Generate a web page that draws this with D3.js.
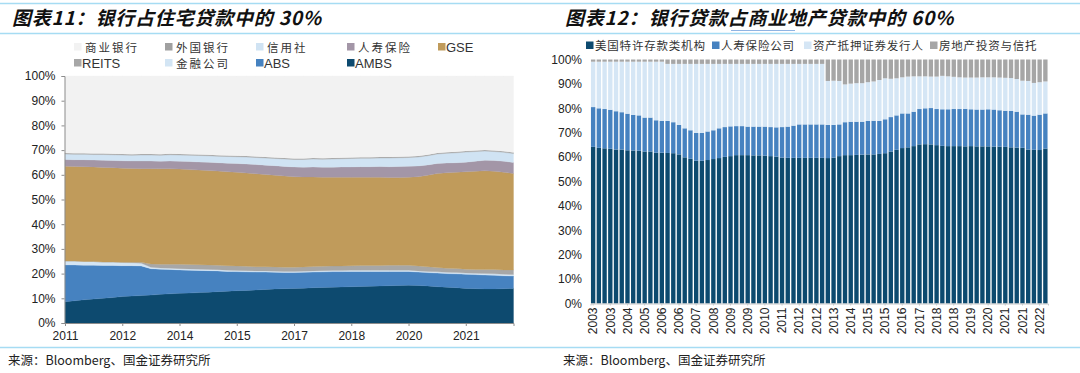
<!DOCTYPE html>
<html>
<head>
<meta charset="utf-8">
<script src="https://cdn.jsdelivr.net/npm/d3@7/dist/d3.min.js"></script>
<style>
  body { margin: 0; background: #fff; }
  svg { display: block; }
  text { font-family: "Liberation Sans", Arial, sans-serif; fill: #222; }
</style>
</head>
<body>
<svg id="chart" width="1080" height="373"></svg>
<script>

// ---------- left chart data (quarterly share of residential loans, %) ----------
var leftQuarters = ["2011Q1","2011Q2","2011Q3","2011Q4","2012Q1","2012Q2","2012Q3","2012Q4",
  "2013Q1","2013Q2","2013Q3","2013Q4","2014Q1","2014Q2","2014Q3","2014Q4",
  "2015Q1","2015Q2","2015Q3","2015Q4","2016Q1","2016Q2","2016Q3","2016Q4",
  "2017Q1","2017Q2","2017Q3","2017Q4","2018Q1","2018Q2","2018Q3","2018Q4",
  "2019Q1","2019Q2","2019Q3","2019Q4","2020Q1","2020Q2","2020Q3","2020Q4",
  "2021Q1","2021Q2","2021Q3","2021Q4","2022Q1","2022Q2","2022Q3","2022Q4"];
var leftTickLabels = ["2011","2012","2014","2015","2017","2018","2020","2021"];

var ambs = [8.6,9.0,9.4,9.7,10.0,10.3,10.7,10.9,11.1,11.3,11.6,11.8,12.0,12.1,12.3,12.5,
  12.7,12.9,13.1,13.2,13.4,13.6,13.8,13.9,14.0,14.1,14.3,14.4,14.5,14.6,14.7,14.8,
  14.9,15.0,15.1,15.2,15.3,15.2,15.0,14.7,14.5,14.3,14.0,13.9,13.8,13.8,13.9,14.0];
var abs = [14.9,14.5,14.0,13.7,13.3,13.0,12.5,12.3,12.0,10.7,10.2,9.9,9.5,9.3,9.0,8.7,
  8.4,8.0,7.7,7.5,7.2,7.0,6.7,6.5,6.4,6.4,6.3,6.3,6.3,6.2,6.2,6.1,
  6.0,5.9,5.8,5.7,5.6,5.4,5.4,5.5,5.5,5.6,5.7,5.7,5.6,5.5,5.2,5.0];
var finance = [1.6,1.6,1.5,1.5,1.4,1.4,1.3,1.2,1.1,0.6,0.5,0.5,0.5,0.5,0.5,0.5,
  0.5,0.5,0.5,0.5,0.5,0.5,0.5,0.5,0.5,0.5,0.5,0.5,0.5,0.5,0.5,0.5,
  0.5,0.5,0.5,0.5,0.5,0.5,0.5,0.5,0.5,0.5,0.5,0.5,0.6,0.6,0.6,0.6];
var reits = [0,0,0,0,0,0,0.1,0.2,0.4,1.3,1.5,1.6,1.8,1.8,1.8,1.8,
  1.8,1.8,1.8,1.8,1.7,1.7,1.7,1.7,1.7,1.7,1.8,1.8,1.8,1.8,1.8,1.9,
  1.9,1.9,2.0,2.0,2.0,2.0,1.9,1.8,1.7,1.7,1.6,1.6,1.7,1.8,1.8,1.9];
var gse = [38.4,38.3,38.4,38.3,38.3,38.2,38.1,38.0,37.9,38.6,38.6,38.6,38.5,38.4,38.3,38.2,
  38.1,38.0,37.9,37.7,37.6,37.3,37.1,36.9,36.6,36.4,36.2,36.0,35.9,35.9,35.8,35.7,
  35.7,35.7,35.5,35.5,35.6,36.1,37.0,38.0,38.6,38.9,39.4,39.7,39.9,39.7,39.5,39.0];
var lifeIns = [2.7,2.7,2.8,2.8,2.9,2.9,3.0,3.0,3.1,3.1,3.1,3.2,3.2,3.3,3.3,3.4,
  3.4,3.5,3.6,3.7,3.8,3.8,3.9,3.9,4.0,4.0,4.1,4.1,4.1,4.2,4.2,4.3,
  4.3,4.4,4.4,4.5,4.5,4.4,4.2,4.1,4.0,3.9,3.9,4.1,4.3,4.4,4.5,4.5];
var creditUnion = [2.2,2.2,2.2,2.2,2.3,2.3,2.3,2.3,2.4,2.4,2.4,2.5,2.5,2.5,2.6,2.6,
  2.6,2.7,2.7,2.8,2.8,2.9,2.9,3.0,3.0,3.1,3.2,3.2,3.3,3.3,3.4,3.4,
  3.4,3.4,3.5,3.5,3.5,3.6,3.7,3.8,3.9,4.0,4.1,3.9,3.7,3.6,3.6,3.6];
var foreignBank = [0.4,0.4,0.4,0.4,0.4,0.4,0.4,0.4,0.4,0.4,0.4,0.4,0.4,0.4,0.4,0.4,
  0.4,0.4,0.4,0.4,0.4,0.4,0.4,0.4,0.4,0.4,0.4,0.4,0.4,0.4,0.4,0.4,
  0.4,0.4,0.4,0.4,0.4,0.4,0.4,0.4,0.4,0.4,0.4,0.4,0.4,0.4,0.4,0.4];
var commercialBank = [31.2,31.3,31.3,31.4,31.4,31.5,31.6,31.7,31.6,31.6,31.7,31.5,31.6,31.7,31.8,31.9,
  32.1,32.2,32.3,32.4,32.6,32.8,33.0,33.2,33.4,33.4,33.2,33.3,33.2,33.1,33.0,32.9,
  32.9,32.8,32.8,32.7,32.6,32.4,31.9,31.2,30.9,30.7,30.4,30.2,30.0,30.2,30.5,31.0];

// ---------- right chart data (share of commercial real estate loans, %) ----------
var rightQuarters = ["2003Q1","2003Q2","2003Q3","2003Q4","2004Q1","2004Q2","2004Q3","2004Q4",
  "2005Q1","2005Q2","2005Q3","2005Q4","2006Q1","2006Q2","2006Q3","2006Q4",
  "2007Q1","2007Q2","2007Q3","2007Q4","2008Q1","2008Q2","2008Q3","2008Q4",
  "2009Q1","2009Q2","2009Q3","2009Q4","2010Q1","2010Q2","2010Q3","2010Q4",
  "2011Q1","2011Q2","2011Q3","2011Q4","2012Q1","2012Q2","2012Q3","2012Q4",
  "2013Q1","2013Q2","2013Q3","2013Q4","2014Q1","2014Q2","2014Q3","2014Q4",
  "2015Q1","2015Q2","2015Q3","2015Q4","2016Q1","2016Q2","2016Q3","2016Q4",
  "2017Q1","2017Q2","2017Q3","2017Q4","2018Q1","2018Q2","2018Q3","2018Q4",
  "2019Q1","2019Q2","2019Q3","2019Q4","2020Q1","2020Q2","2020Q3","2020Q4",
  "2021Q1","2021Q2","2021Q3","2021Q4","2022Q1","2022Q2","2022Q3","2022Q4"];
var rightTickLabels = ["2003","2003","2004","2005","2006","2006","2007","2008","2009","2009",
  "2010","2011","2012","2012","2013","2014","2015","2015","2016","2017",
  "2018","2018","2019","2020","2021","2021","2022"];

var depository = [64.2,63.8,63.6,63.4,63.1,63.1,62.8,62.7,62.6,62.3,62.3,61.8,61.8,61.7,61.6,61.1,
  59.9,59.3,58.5,58.5,58.8,59.2,59.6,60.1,60.4,60.8,60.8,60.8,60.7,60.7,60.6,60.4,
  60.2,59.8,59.7,59.7,59.7,59.7,59.7,59.7,59.7,59.6,59.8,60.4,60.8,60.8,60.9,61.0,
  61.1,61.1,61.3,61.6,62.3,63.0,63.7,64.0,64.5,65.2,65.3,65.2,64.9,64.6,64.5,64.5,
  64.5,64.4,64.5,64.4,64.4,64.4,64.3,64.3,64.2,64.0,63.9,63.8,63.1,63.0,62.9,63.5];
var lifeCompany = [16.3,16.2,16.1,16.0,15.7,15.3,15.0,14.6,14.5,13.9,13.9,13.3,13.0,13.1,12.7,12.1,
  11.9,11.7,11.4,11.4,11.7,11.8,12.2,12.2,12.2,11.9,11.9,11.7,11.8,11.8,11.9,11.9,
  12.0,12.5,12.8,13.2,13.7,13.7,13.7,13.7,13.7,13.6,13.4,13.0,13.5,13.7,13.6,13.5,
  13.7,13.8,13.5,13.9,14.1,14.1,14.2,13.9,14.1,14.5,14.7,14.9,14.8,15.0,15.1,15.2,
  15.2,15.4,15.1,15.1,15.1,15.2,15.2,14.9,14.8,14.9,14.7,13.7,14.3,14.0,14.5,14.4];
var absIssuer = [18.6,19.1,19.4,19.7,20.3,20.7,21.3,21.8,22.0,22.9,22.9,24.0,24.3,23.4,23.9,25.0,
  26.4,27.2,28.3,28.3,27.7,27.2,26.4,25.9,25.6,25.5,25.5,25.7,25.7,25.7,25.7,25.9,
  26.0,25.9,25.7,25.3,24.8,24.8,24.8,24.8,24.8,18.0,18.1,17.8,15.5,15.6,15.8,15.8,
  15.9,16.1,16.8,16.8,15.7,15.2,14.8,15.1,14.5,13.4,13.1,12.9,13.3,13.7,13.5,13.2,
  13.0,12.8,13.0,13.1,13.2,13.1,13.2,13.4,13.5,13.5,13.4,13.8,13.8,13.4,13.3,13.1];
var reitTrust = [0.9,0.9,0.9,0.9,0.9,0.9,0.9,0.9,0.9,0.9,0.9,0.9,0.9,1.8,1.8,1.8,
  1.8,1.8,1.8,1.8,1.8,1.8,1.8,1.8,1.8,1.8,1.8,1.8,1.8,1.8,1.8,1.8,
  1.8,1.8,1.8,1.8,1.8,1.8,1.8,1.8,1.8,8.8,8.7,8.8,10.2,9.9,9.7,9.7,
  9.3,9.0,8.4,7.7,7.9,7.7,7.3,7.0,6.9,6.9,6.9,7.0,7.0,6.7,6.9,7.1,
  7.3,7.4,7.4,7.4,7.3,7.3,7.3,7.4,7.5,7.6,8.0,8.7,8.8,9.6,9.3,9.0];

var svg = d3.select("#chart");
var cjk = "'Noto Sans CJK SC', sans-serif";

// frame lines and titles
[3.5, 33.5, 347.5].forEach(function(y) {
  svg.append("line")
    .attr("x1", 0).attr("x2", 1080).attr("y1", y).attr("y2", y)
    .attr("stroke", "#a6dcf3").attr("stroke-width", 1.5);
});

function addTitle(x, txt) {
  svg.append("text")
    .attr("x", x).attr("y", 25)
    .style("font-family", cjk)
    .style("font-size", "19px")
    .style("font-weight", "bold")
    .style("font-style", "italic")
    .style("letter-spacing", "0.8px")
    .style("fill", "#111")
    .text(txt);
}
addTitle(12, "图表11：银行占住宅贷款中的 30%");
addTitle(565, "图表12：银行贷款占商业地产贷款中的 60%");
// stray link underline in the source picture
svg.append("line")
  .attr("x1", 731).attr("x2", 795).attr("y1", 30.5).attr("y2", 30.5)
  .attr("stroke", "#8fb4e3").attr("stroke-width", 1);

function addSource(x) {
  svg.append("text")
    .attr("x", x).attr("y", 365)
    .style("font-family", cjk)
    .style("font-size", "12.5px")
    .style("fill", "#222")
    .text("来源：Bloomberg、国金证券研究所");
}
addSource(8);
addSource(563);

// ---------- left: stacked area ----------
var leftKeys = ["AMBS","ABS","金融公司","REITS","GSE","人寿保险","信用社","外国银行","商业银行"];
var leftColors = {
  "AMBS": "#0d4a6f", "ABS": "#4682c0", "金融公司": "#d3e5f4", "REITS": "#a7a7a7",
  "GSE": "#c09b5b", "人寿保险": "#a396a7", "信用社": "#d0e3f3", "外国银行": "#a0a0a0",
  "商业银行": "#f2f2f2"
};
var leftRows = leftQuarters.map(function(q, i) {
  return {
    q: q, "AMBS": ambs[i], "ABS": abs[i], "金融公司": finance[i], "REITS": reits[i],
    "GSE": gse[i], "人寿保险": lifeIns[i], "信用社": creditUnion[i],
    "外国银行": foreignBank[i], "商业银行": commercialBank[i]
  };
});

var xLeft = d3.scalePoint().domain(leftQuarters).range([65, 513.5]);
var yLeft = d3.scaleLinear().domain([0, 100]).range([323, 76]);

var leftSeries = d3.stack().keys(leftKeys)(leftRows);
var area = d3.area()
  .x(function(d) { return xLeft(d.data.q); })
  .y0(function(d) { return yLeft(d[0]); })
  .y1(function(d) { return yLeft(d[1]); });

svg.append("g").selectAll("path")
  .data(leftSeries)
  .enter()
  .append("path")
  .attr("d", area)
  .attr("fill", function(d) { return leftColors[d.key]; })
  .attr("stroke", function(d) { return leftColors[d.key]; })
  .attr("stroke-width", 0.3);

var leftYAxis = svg.append("g")
  .attr("transform", "translate(64.5,0)")
  .call(d3.axisLeft(yLeft).tickValues(d3.range(0, 101, 10)).tickSize(3).tickPadding(6)
    .tickFormat(function(d) { return d + "%"; }));
var leftTicks = leftQuarters.filter(function(q, i) { return i % 6 === 0; });
var leftXAxis = svg.append("g")
  .attr("transform", "translate(0,323)")
  .call(d3.axisBottom(xLeft).tickValues(leftTicks).tickSize(3).tickPadding(5)
    .tickFormat(function(q, i) { return leftTickLabels[i]; }));
[leftYAxis, leftXAxis].forEach(function(g) {
  g.selectAll("path,line").attr("stroke", "#8c8c8c");
  g.selectAll("text").style("font-size", "12px").style("font-family", "'Liberation Sans', Arial, sans-serif").style("fill", "#222");
});

// left legend, two rows, reading order top layer first
var leftLegend = ["商业银行","外国银行","信用社","人寿保险","GSE","REITS","金融公司","ABS","AMBS"];
leftLegend.forEach(function(k, i) {
  var col = i < 5 ? i : i - 5;
  var row = i < 5 ? 0 : 1;
  var lx = 74 + col * 91;
  var ly = 47 + row * 16;
  svg.append("rect")
    .attr("x", lx).attr("y", ly - 4).attr("width", 7.5).attr("height", 7.5)
    .attr("fill", leftColors[k]);
  var isLatin = /^[A-Z]+$/.test(k);
  svg.append("text")
    .attr("x", lx + (isLatin ? 8 : 11)).attr("y", ly + 4.5)
    .style("font-family", isLatin ? "'Liberation Sans', Arial, sans-serif" : cjk)
    .style("font-size", isLatin ? "13px" : "11.5px")
    .style("letter-spacing", isLatin ? "0px" : "2px")
    .style("fill", "#333")
    .text(k);
});

// ---------- right: 100% stacked bars ----------
var rightKeys = ["美国特许存款类机构","人寿保险公司","资产抵押证券发行人","房地产投资与信托"];
var rightColors = ["#0d4a6f", "#4682c0", "#d5e6f5", "#a6a6a6"];
var rightRows = rightQuarters.map(function(q, i) {
  return {
    q: q, "美国特许存款类机构": depository[i], "人寿保险公司": lifeCompany[i],
    "资产抵押证券发行人": absIssuer[i], "房地产投资与信托": reitTrust[i]
  };
});

var xRight = d3.scaleBand().domain(rightQuarters).range([590.5, 1048]).paddingInner(0.24).paddingOuter(0.08);
var yRight = d3.scaleLinear().domain([0, 100]).range([303.5, 59.5]);

var rightSeries = d3.stack().keys(rightKeys)(rightRows);
svg.append("g").selectAll("g")
  .data(rightSeries)
  .enter()
  .append("g")
  .attr("fill", function(d, i) { return rightColors[i]; })
  .selectAll("rect")
  .data(function(d) { return d; })
  .enter()
  .append("rect")
  .attr("x", function(d) { return xRight(d.data.q); })
  .attr("width", xRight.bandwidth())
  .attr("y", function(d) { return yRight(d[1]); })
  .attr("height", function(d) { return yRight(d[0]) - yRight(d[1]); });

var rightYAxis = svg.append("g")
  .attr("transform", "translate(588,0)")
  .call(d3.axisLeft(yRight).tickValues(d3.range(0, 101, 10)).tickSize(0).tickPadding(6)
    .tickFormat(function(d) { return d + "%"; }));
rightYAxis.select(".domain").remove();

var rightTicks = rightQuarters.filter(function(q, i) { return i % 3 === 0; });
var rightXAxis = svg.append("g")
  .attr("transform", "translate(0,303.5)")
  .call(d3.axisBottom(xRight).tickValues(rightTicks).tickSize(2)
    .tickFormat(function(q, i) { return rightTickLabels[i]; }));
rightXAxis.selectAll("path,line").attr("stroke", "#c8c8c8");
rightXAxis.selectAll("text")
  .attr("transform", "rotate(-90)")
  .attr("x", -4).attr("y", 0).attr("dy", "0.35em")
  .style("text-anchor", "end");
[rightYAxis, rightXAxis].forEach(function(g) {
  g.selectAll("text").style("font-size", "12px").style("font-family", "'Liberation Sans', Arial, sans-serif").style("fill", "#222");
});

// right legend, one row
var rightLegendX = [586, 712, 804, 930];
rightKeys.forEach(function(k, i) {
  svg.append("rect")
    .attr("x", rightLegendX[i]).attr("y", 41.5).attr("width", 7.5).attr("height", 7.5)
    .attr("fill", rightColors[i]);
  svg.append("text")
    .attr("x", rightLegendX[i] + 9).attr("y", 49.5)
    .style("font-family", cjk)
    .style("font-size", "11.5px")
    .style("letter-spacing", "0.8px")
    .style("fill", "#333")
    .text(k);
});

</script>
</body>
</html>
